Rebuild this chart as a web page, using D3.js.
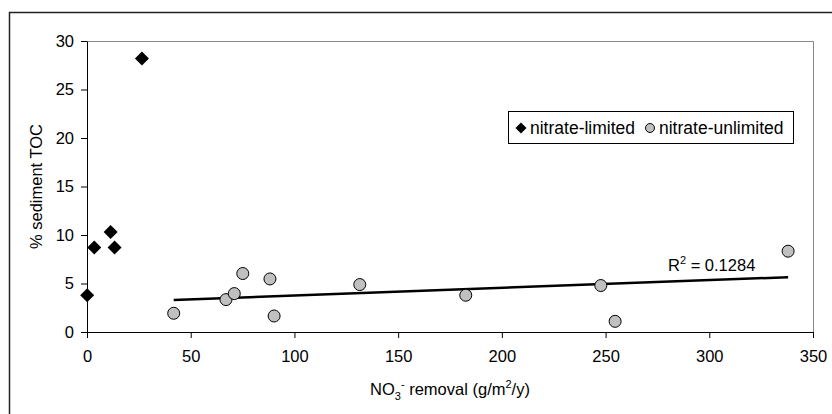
<!DOCTYPE html>
<html>
<head>
<meta charset="utf-8">
<script src="https://cdn.jsdelivr.net/npm/d3@7"></script>
<style>
  body { margin: 0; background: #fff; }
  svg text { font-family: "Liberation Sans", Arial, sans-serif; }
</style>
</head>
<body>
<div id="main"></div>
<script>
// values
const limitedX = [26.5, 0.1, 3.5, 11.4, 13.3];
const limitedY = [28.2, 3.8, 8.7, 10.3, 8.7];
const unlimitedX = [41.8, 67.0, 71.0, 75.1, 88.2, 90.2, 131.5, 182.6, 247.7, 254.6, 338.0];
const unlimitedY = [1.93, 3.34, 3.96, 6.03, 5.47, 1.65, 4.89, 3.79, 4.79, 1.1, 8.33];
const xTicks = [0, 50, 100, 150, 200, 250, 300, 350];
const yTicks = [0, 5, 10, 15, 20, 25, 30];
const seriesNames = ["nitrate-limited", "nitrate-unlimited"];
const rSquared = "0.1284";

const width = 832, height = 414;
const plotLeft = 87, plotRight = 813, plotTop = 41, plotBottom = 332;

const svg = d3.select("#main").append("svg")
  .attr("width", width)
  .attr("height", height);

// outer chart border (runs off the right/bottom edge)
svg.append("rect")
  .attr("x", 9.5).attr("y", 12.5)
  .attr("width", width).attr("height", height)
  .attr("fill", "none")
  .attr("stroke", "#222")
  .attr("stroke-width", 1.5);

const x = d3.scaleLinear().domain([0, 350]).range([plotLeft, plotRight]);
const y = d3.scaleLinear().domain([0, 30]).range([plotBottom, plotTop]);

// plot area frame (grey top/right)
svg.append("path")
  .attr("d", "M" + plotLeft + "," + (plotTop + 0.5) + "H" + (plotRight + 0.5) + "V" + plotBottom)
  .attr("fill", "none")
  .attr("stroke", "#888")
  .attr("stroke-width", 1);

const xAxis = svg.append("g")
  .attr("transform", "translate(0," + plotBottom + ")")
  .call(d3.axisBottom(x).tickValues(xTicks).tickSize(6).tickPadding(12).tickSizeOuter(0));
const yAxis = svg.append("g")
  .attr("transform", "translate(" + plotLeft + ",0)")
  .call(d3.axisLeft(y).tickValues(yTicks).tickSize(6).tickPadding(7).tickSizeOuter(0));

[xAxis, yAxis].forEach(a => {
  a.select(".domain").attr("stroke", "#000").attr("stroke-width", 1);
  a.selectAll(".tick line").attr("stroke", "#000");
  a.selectAll(".tick text")
    .attr("fill", "#000")
    .style("font-size", "16.5px")
    .style("font-family", "'Liberation Sans', Arial, sans-serif");
});

// axis titles
const xt = svg.append("text")
  .attr("x", (plotLeft + plotRight) / 2)
  .attr("y", 395)
  .attr("text-anchor", "middle")
  .style("font-size", "16.5px");
xt.append("tspan").text("NO");
xt.append("tspan").attr("dy", 5).style("font-size", "11px").text("3");
xt.append("tspan").attr("dy", -12).style("font-size", "11px").text("-");
xt.append("tspan").attr("dy", 7).text(" removal (g/m");
xt.append("tspan").attr("dy", -7).style("font-size", "11px").text("2");
xt.append("tspan").attr("dy", 7).text("/y)");

svg.append("text")
  .attr("transform", "translate(42," + ((plotTop + plotBottom) / 2) + ") rotate(-90)")
  .attr("text-anchor", "middle")
  .style("font-size", "16.5px")
  .text("% sediment TOC");

// linear trend for the unlimited series
const n = unlimitedX.length;
const mx = d3.mean(unlimitedX), my = d3.mean(unlimitedY);
let sxy = 0, sxx = 0;
for (let i = 0; i < n; i++) {
  sxy += (unlimitedX[i] - mx) * (unlimitedY[i] - my);
  sxx += (unlimitedX[i] - mx) * (unlimitedX[i] - mx);
}
const slope = sxy / sxx, icpt = my - slope * mx;
const x0 = d3.min(unlimitedX), x1 = d3.max(unlimitedX);

svg.append("line")
  .attr("x1", x(x0)).attr("y1", y(icpt + slope * x0))
  .attr("x2", x(x1)).attr("y2", y(icpt + slope * x1))
  .attr("stroke", "#000")
  .attr("stroke-width", 2.5);

const rt = svg.append("text")
  .attr("x", 668).attr("y", 271)
  .style("font-size", "16.5px");
rt.append("tspan").text("R");
rt.append("tspan").attr("dy", -7).style("font-size", "11px").text("2");
rt.append("tspan").attr("dy", 7).text(" = " + rSquared);

// points
const diamond = (cx, cy, r) =>
  "M" + cx + "," + (cy - r) + "L" + (cx + r) + "," + cy + "L" + cx + "," + (cy + r) + "L" + (cx - r) + "," + cy + "Z";

svg.append("g").selectAll("circle")
  .data(d3.range(n))
  .join("circle")
  .attr("cx", i => x(unlimitedX[i]))
  .attr("cy", i => y(unlimitedY[i]))
  .attr("r", 6)
  .attr("fill", "#c0c0c0")
  .attr("stroke", "#000")
  .attr("stroke-width", 1);

svg.append("g").selectAll("path")
  .data(d3.range(limitedX.length))
  .join("path")
  .attr("d", i => diamond(x(limitedX[i]), y(limitedY[i]), 7))
  .attr("fill", "#000");

// legend
const lg = svg.append("g");
lg.append("rect")
  .attr("x", 508.5).attr("y", 111.5)
  .attr("width", 285).attr("height", 32)
  .attr("fill", "#fff")
  .attr("stroke", "#000")
  .attr("stroke-width", 1);
lg.append("path").attr("d", diamond(521, 128, 5.5)).attr("fill", "#000");
lg.append("text").attr("x", 530).attr("y", 134).style("font-size", "17.5px").text(seriesNames[0]);
lg.append("circle").attr("cx", 650).attr("cy", 128).attr("r", 4.5)
  .attr("fill", "#c0c0c0").attr("stroke", "#000");
lg.append("text").attr("x", 659).attr("y", 134).style("font-size", "17.5px").text(seriesNames[1]);
</script>
</body>
</html>
